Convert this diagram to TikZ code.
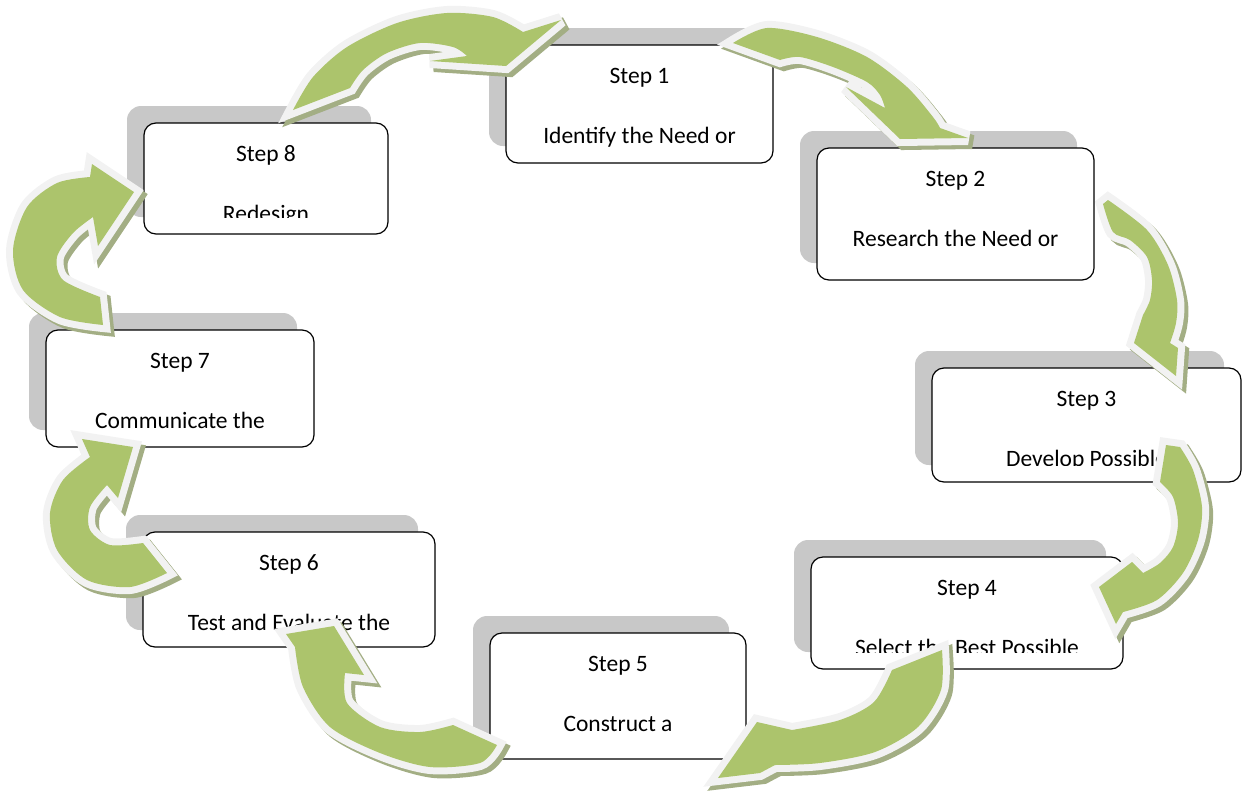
\documentclass[tikz,border=0pt]{standalone}
\usepackage{fontspec}
\setmainfont{Carlito}
\definecolor{agreen}{RGB}{172,196,108}
\definecolor{aoutl}{RGB}{242,242,242}
\definecolor{ashd}{RGB}{163,174,132}
\definecolor{bshd}{RGB}{200,200,200}
\tikzset{
 stepbox/.style={draw=black, line width=1.2pt, fill=white, rounded corners=12pt, inner sep=0pt},
 boxshadow/.style={fill=bshd, rounded corners=14pt},
 steptxt/.style={anchor=base, inner sep=0pt, font=\fontsize{23.5}{28}\selectfont},
 arrshadow/.style={draw=ashd, fill=ashd, line width=14pt, line join=miter, miter limit=3, shift={(4,4)}},
 arroutline/.style={draw=aoutl, fill=aoutl, line width=14pt, line join=miter, miter limit=3},
 arrbody/.style={fill=agreen},
}
\newcommand\mkstep[7]{%
 \fill[boxshadow] (#2-17,#3-17) rectangle (#4-17,#5-17);
 \node[stepbox, minimum width={#4-#2}, minimum height={#5-#3}] (#1) at ({(#2+#4)/2},{(#3+#5)/2}) {};
 \begin{scope}
  \clip (#2,#3) rectangle (#4,#5-17);
  \node[steptxt] (#1a) at ({(#2+#4)/2},#3+38) {#6};
  \node[steptxt] (#1b) at ({(#2+#4)/2},#3+98) {#7};
 \end{scope}}
\newcommand\garrow[1]{%
 \filldraw[arrshadow] #1;
 \filldraw[arroutline] #1;
 \fill[arrbody] #1;}
\begin{document}
\begin{tikzpicture}[x=1pt,y=-1pt]
\useasboundingbox (0,0) rectangle (1242,790);
\mkstep{s1}{506}{45}{773}{163}{Step 1}{Identify the Need or}
\mkstep{s2}{817}{148}{1094}{280}{Step 2}{Research the Need or}
\mkstep{s3}{932}{368}{1241}{482}{Step 3}{Develop Possible}
\mkstep{s4}{811}{557}{1123}{669}{Step 4}{Select the Best Possible}
\mkstep{s5}{490}{633}{746}{759}{Step 5}{Construct a}
\mkstep{s6}{143}{532}{435}{647}{Step 6}{Test and Evaluate the}
\mkstep{s7}{46}{330}{314}{447}{Step 7}{Communicate the}
\mkstep{s8}{144}{123}{388}{234}{Step 8}{Redesign}
% arrow 8 -> 1
\garrow{plot[smooth] coordinates {(293,110) (313,77) (347,47) (397,23) (447,13) (493,17) (523,32)} -- (561,20) -- (506,66) -- (430,61) -- plot[smooth] coordinates {(467,56) (453,47) (420,43) (387,53) (363,70) (350,88)} -- cycle}
% arrow 1 -> 2
\garrow{plot[smooth] coordinates {(733,43) (767,28) (817,37) (867,57) (907,87) (933,117) (940,128)} -- (968,138) -- (900,139) -- (846,87) -- plot[smooth] coordinates {(885,108) (880,95) (867,82) (833,67) (800,57) (780,60)} -- cycle}
% arrow 2 -> 3
\garrow{plot[smooth] coordinates {(1108,200) (1147,230) (1168,265) (1177,300) (1176,323) (1170,343)} -- (1178,348) -- (1176,376) -- (1134,343) -- plot[smooth] coordinates {(1143,315) (1150,300) (1152,280) (1147,257) (1130,240) (1113,232) (1103,204)} -- cycle}
% arrow 3 -> 4
\garrow{plot[smooth] coordinates {(1180,447) (1193,470) (1202,507) (1198,540) (1183,573) (1157,600) (1123,612)} -- (1116,624) -- (1099,587) -- (1132,562) -- plot[smooth] coordinates {(1143,573) (1160,563) (1173,547) (1178,523) (1173,497) (1160,482)} -- (1166,445) -- cycle}
% arrow 4 -> 5
\garrow{plot[smooth] coordinates {(942,650) (941,690) (918,727) (875,752) (820,763) (775,765)} -- (760,773) -- (718,778) -- (757,722) -- plot[smooth] coordinates {(792,730) (840,720) (874,702) (892,670)} -- cycle}
% arrow 5 -> 6
\garrow{plot[smooth] coordinates {(497,745) (480,763) (430,767) (380,753) (330,727) (303,687) (295,647)} -- (286,634) -- (334,626) -- (364,675) -- plot[smooth] coordinates {(345,673) (347,703) (380,727) (420,732) (453,725)} -- cycle}
% arrow 6 -> 7
\garrow{plot[smooth] coordinates {(167,573) (130,587) (87,580) (57,550) (50,513) (63,480) (90,457)} -- (82,439) -- (133,447) -- (118,498) -- plot[smooth] coordinates {(107,485) (90,507) (90,530) (110,545) (143,543)} -- cycle}
% arrow 7 -> 8
\garrow{plot[smooth] coordinates {(103,325) (60,317) (23,290) (13,250) (27,207) (57,183) (90,177)} -- (92,164) -- (134,192) -- (98,246) -- plot[smooth] coordinates {(93,217) (73,233) (57,257) (63,280) (100,297)} -- cycle}
\end{tikzpicture}
\end{document}
